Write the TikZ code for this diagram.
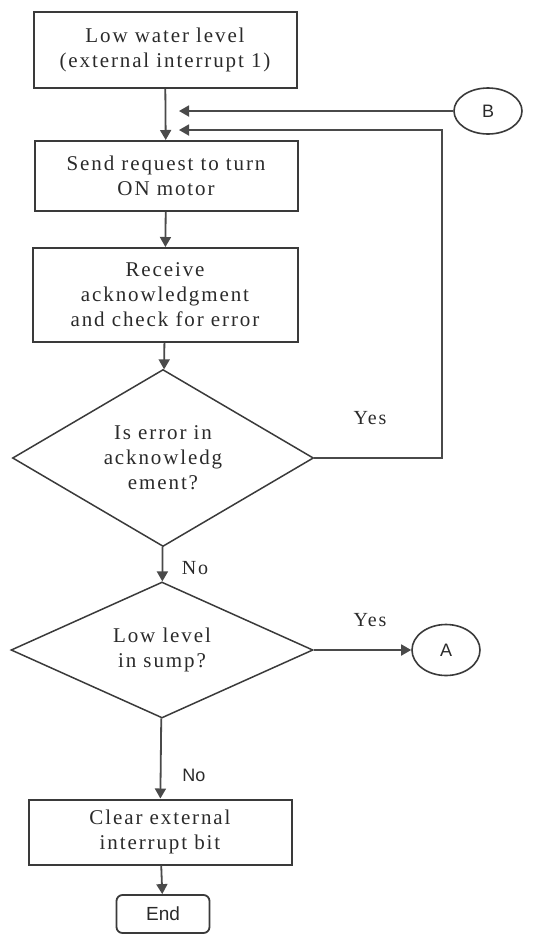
\documentclass[tikz,border=0pt]{standalone}
\usepackage{fontspec}
\setmainfont{Liberation Serif}[LetterSpace=9]
\setsansfont{Liberation Sans}
\usetikzlibrary{positioning, calc, shapes.geometric, arrows.meta}
\definecolor{lineGray}{HTML}{4a4a4a}
\definecolor{boxGray}{HTML}{3a3a3a}
\definecolor{textGray}{HTML}{2a2a2a}
\tikzset{
    Line/.style = {line width=1.8pt, draw=lineGray},
    Arrow/.style = {Line, -{Triangle[length=10pt, width=11pt]}},
    Process/.style = {
        draw=boxGray, line width=2pt, minimum width=263pt,
        align=center, inner sep=0pt, text=textGray,
        font=\fontsize{21}{25}\selectfont
    },
    Decision/.style = {
        diamond, draw=boxGray, line width=1.5pt, aspect=1.7,
        inner sep=0pt, align=center, text=textGray,
        font=\fontsize{21}{25}\selectfont
    },
    Connector/.style = {
        ellipse, draw=boxGray, line width=1.6pt, inner sep=0pt,
        minimum width=68pt, text=textGray,
        font=\sffamily\fontsize{18}{20}\selectfont
    },
    Terminal/.style = {
        draw=boxGray, line width=1.8pt, rounded corners=6pt,
        minimum width=93pt, minimum height=38pt, inner sep=0pt,
        text=textGray, font=\sffamily\fontsize{19}{20}\selectfont
    },
    Label/.style = {text=textGray, font=\fontsize{20}{20}\selectfont}
}

\begin{document}
\begin{tikzpicture}[x=1pt, y=-1pt]
    \useasboundingbox (0,0) rectangle (533,935);
    \node[Process, minimum height=76pt] (low) at (165,50) {Low water level\\(external interrupt 1)};
    \node[Process, minimum height=70pt] (send) at (166,176) {Send request to turn\\ON motor};
    \node[Process, minimum height=94pt, minimum width=265pt] (recv) at (165,295) {Receive\\acknowledgment\\and check for error};
    \node[Decision, minimum width=301pt, minimum height=177pt] (err) at (163,458) {Is error in\\acknowledg\\ement?};
    \node[Decision, minimum width=302pt, minimum height=136pt] (sump) at (162,650) {Low level\\in sump?};
    \node[Process, minimum height=65pt] (clear) at (160,832) {Clear external\\interrupt bit};
    \node[Terminal] (end) at (163,914) {End};
    \node[Connector, minimum height=46pt] (B) at (488,111) {B};
    \node[Connector, minimum height=51pt] (A) at (446,650) {A};
    \coordinate (inB) at (179,111);
    \coordinate (inErr) at (179,130);
    % main flow
    \draw [Arrow] (low) to (send);
    \draw [Arrow] (send) to (recv);
    \draw [Arrow] (recv) to (err);
    \draw [Arrow] (err) to (sump);
    \draw [Arrow] (sump) to (clear);
    \draw [Arrow] (clear) to (end);
    \draw [Arrow] (sump) to (A);
    % loop back
    \draw [Arrow] (B) to (inB);
    \draw [Arrow] (err.east) -- (442,458) |- (inErr);
    \node[Label] (yes1) at (370,418) {Yes};
    \node[Label] (no1) at (195,568) {No};
    \node[Label] (yes2) at (370,620) {Yes};
    \node[Label, font=\sffamily\fontsize{18}{20}\selectfont] (no2) at (194,775) {No};
\end{tikzpicture}
\end{document}
